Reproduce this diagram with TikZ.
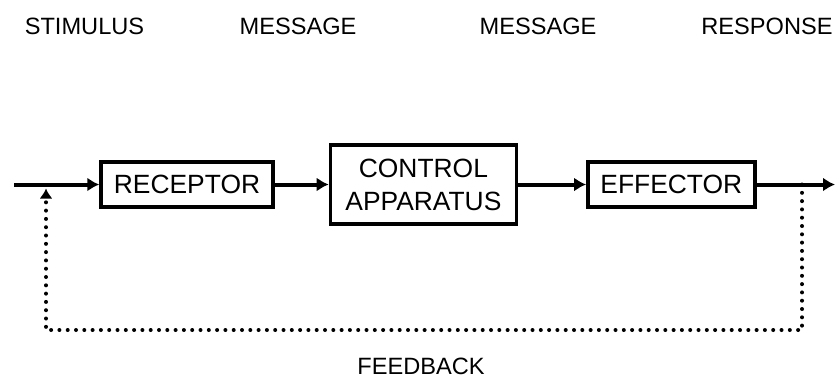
\documentclass[tikz,border=0pt]{standalone}
\usepackage{fontspec}
\setmainfont{Liberation Sans}
\usetikzlibrary{
  arrows.meta,
  positioning,
}
\tikzstyle{block} = [
  draw,
  rectangle,
  line width=1.7pt,
  minimum height=22.5pt,
  inner sep=0pt,
  align=center,
  font=\fontsize{13.2}{16.5}\selectfont,
]
\tikzstyle{tag} = [
  inner sep=0pt,
  font=\fontsize{11.8}{14}\selectfont,
]
\tikzstyle{arrow} = [
  -{Latex[length=6pt,width=7pt]},
  line width=2pt,
]
\tikzstyle{feedback} = [
  -{Latex[length=5pt,width=6.5pt]},
  line width=2pt,
  line cap=round,
  dash pattern=on 0pt off 4.15pt,
]

\begin{document}
\begin{tikzpicture}[x=0.5pt,y=-0.5pt,node distance=0mm and 27pt]
      \useasboundingbox (0,0) rectangle (838,377);

      % top labels
      \node[tag] (stimulus) at (84.5,26) {STIMULUS};
      \node[tag] (message1) at (298,26)  {MESSAGE};
      \node[tag] (message2) at (538,26)  {MESSAGE};
      \node[tag] (response) at (767,26)  {RESPONSE};

      % blocks
      \node[block,minimum width=86pt]                         (receptor) at (187,184.5) {RECEPTOR};
      \node[block,minimum width=93pt,minimum height=39.5pt]   (control)  [right=of receptor]    {CONTROL\\APPARATUS};
      \node[block,minimum width=83.5pt]                       (effector) [right=34pt of control] {EFFECTOR};

      \coordinate (in)      at (14,184.5);
      \coordinate (out)     at (835,184.5);
      \coordinate (tapL)    at (46,184.5);
      \coordinate (tapR)    at (802,184.5);
      \coordinate (cornerL) at (46,330);
      \coordinate (cornerR) at (802,330);

      \draw[arrow] (in) -- (receptor);
      \draw[arrow] (receptor) -- (control);
      \draw[arrow] (control) -- (effector);
      \draw[arrow] (effector) -- (out);

      % feedback loop
      \draw[feedback,shorten >=2pt] (tapR) -- (cornerR) -- (cornerL) -- (tapL);
      \node[tag] (feedbacktxt) at (421,366) {FEEDBACK};
    \end{tikzpicture}
\end{document}
